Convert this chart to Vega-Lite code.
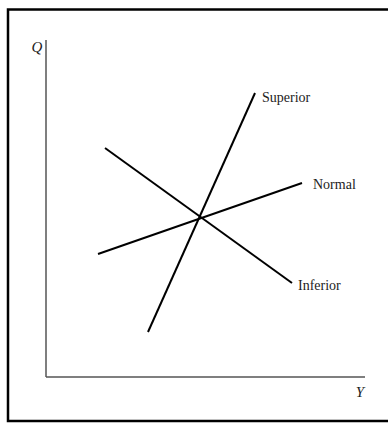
{
  "$schema": "https://vega.github.io/schema/vega-lite/v6.json",
  "width": 388,
  "height": 423,
  "autosize": {"type": "fit", "contains": "padding"},
  "padding": 0,
  "background": "white",
  "config": {"view": {"stroke": null}},
  "datasets": {
    "curves": [
      {"curve": "Superior", "Y": 102, "Q": 45},
      {"curve": "Superior", "Y": 209, "Q": 284},
      {"curve": "Normal", "Y": 52, "Q": 123},
      {"curve": "Normal", "Y": 256, "Q": 194},
      {"curve": "Inferior", "Y": 59, "Q": 229},
      {"curve": "Inferior", "Y": 246, "Q": 94}
    ],
    "axes": [
      {"axis": "Q", "Y": 0, "Q": 0, "Y2": 0, "Q2": 337},
      {"axis": "Y", "Y": 0, "Q": 0, "Y2": 319, "Q2": 0}
    ],
    "frame": [{"Y": -38, "Q": -44, "Y2": 360, "Q2": 367.5}],
    "labels": [
      {"text": "Superior", "Y": 216, "Q": 279},
      {"text": "Normal", "Y": 267, "Q": 192},
      {"text": "Inferior", "Y": 252, "Q": 91}
    ],
    "axislabels": [
      {"text": "Q", "Y": -9, "Q": 330},
      {"text": "Y", "Y": 314, "Q": -15}
    ]
  },
  "layer": [
    {
      "data": {"name": "frame"},
      "mark": {"type": "rect", "fill": null, "stroke": "black", "strokeWidth": 2.5, "clip": true},
      "encoding": {
        "x": {"field": "Y", "type": "quantitative", "scale": {"domain": [-46, 342], "nice": false, "zero": false}, "axis": null},
        "x2": {"field": "Y2"},
        "y": {"field": "Q", "type": "quantitative", "scale": {"domain": [-46, 377], "nice": false, "zero": false}, "axis": null},
        "y2": {"field": "Q2"}
      }
    },
    {
      "data": {"name": "axes"},
      "mark": {"type": "rule", "stroke": "#555555", "strokeWidth": 1.5},
      "encoding": {
        "x": {"field": "Y", "type": "quantitative"},
        "x2": {"field": "Y2"},
        "y": {"field": "Q", "type": "quantitative"},
        "y2": {"field": "Q2"}
      }
    },
    {
      "data": {"name": "curves"},
      "mark": {"type": "line", "stroke": "black", "strokeWidth": 2},
      "encoding": {
        "x": {"field": "Y", "type": "quantitative"},
        "y": {"field": "Q", "type": "quantitative"},
        "detail": {"field": "curve"}
      }
    },
    {
      "data": {"name": "labels"},
      "mark": {"type": "text", "align": "left", "baseline": "middle", "font": "Liberation Serif", "fontSize": 14, "fill": "#222222"},
      "encoding": {
        "x": {"field": "Y", "type": "quantitative"},
        "y": {"field": "Q", "type": "quantitative"},
        "text": {"field": "text"}
      }
    },
    {
      "data": {"name": "axislabels"},
      "mark": {"type": "text", "align": "center", "baseline": "middle", "font": "Liberation Serif", "fontStyle": "italic", "fontSize": 15, "fill": "#222222"},
      "encoding": {
        "x": {"field": "Y", "type": "quantitative"},
        "y": {"field": "Q", "type": "quantitative"},
        "text": {"field": "text"}
      }
    }
  ]
}
